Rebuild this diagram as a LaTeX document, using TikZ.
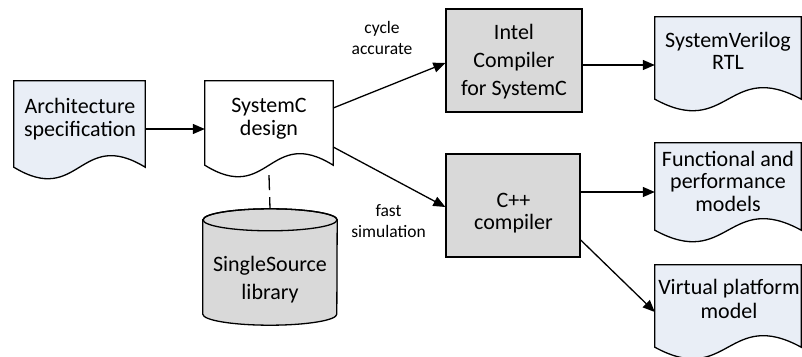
\documentclass[tikz,border=0pt]{standalone}
\usepackage{fontspec}
\setmainfont{Carlito}
\usetikzlibrary{calc,arrows.meta,backgrounds}
\definecolor{docfill}{HTML}{E9EEF6}
\definecolor{boxfill}{HTML}{D9D9D9}
\tikzset{
  shapebox/.style={draw=none,inner sep=0pt,minimum width=#1},
  procbox/.style={draw=black,line width=1.3pt,fill=boxfill,inner sep=0pt},
  outline/.style={draw=black,line width=1.3pt,line join=miter},
  txt/.style={align=center,inner sep=0pt,font={\fontsize{22}{23}\selectfont}},
  lbl/.style={align=center,inner sep=0pt,font={\fontsize{17.5}{21}\selectfont}},
  conn/.style={line width=1.3pt,-{Triangle[length=12pt,width=10pt]}},
  link/.style={line width=1.3pt,dash pattern=on 15pt off 7pt}
}
\newcommand\docpath[3]{% node, fill, wave
  \path[outline,fill=#2] (#1.north west) -- (#1.north east) -- (#1.south east)
    .. controls ($(#1.south)+(0,#3)$) and ($(#1.south)+(0,-#3)$) .. (#1.south west) -- cycle;}
\begin{document}
\begin{tikzpicture}[x=1pt,y=1pt]
\useasboundingbox (0,0) rectangle (802,356);
% document-shaped nodes
\node[shapebox=131pt,minimum height=86pt] (arch) at (79.5,232) {};
\node[shapebox=128pt,minimum height=84pt] (sysc) at (269,233) {};
\node[shapebox=146pt,minimum height=82pt] (sv) at (728,298) {};
\node[shapebox=146pt,minimum height=87pt] (func) at (728,169.5) {};
\node[shapebox=146pt,minimum height=82pt] (vp) at (728,50) {};
\docpath{arch}{docfill}{40}
\docpath{sysc}{white}{40}
\docpath{sv}{docfill}{40}
\docpath{func}{docfill}{40}
\docpath{vp}{docfill}{40}
% process boxes
\node[procbox,minimum width=136pt,minimum height=103pt] (intel) at (514,295.5) {};
\node[procbox,minimum width=134pt,minimum height=103pt] (cpp) at (513,150.5) {};
% cylinder
\node[shapebox=134pt,minimum height=116pt] (cyl) at (270,89) {};
\path[outline,fill=boxfill] ($(cyl.north west)+(0,-11)$) -- ($(cyl.south west)+(0,11)$)
  arc[start angle=180,end angle=360,x radius=67,y radius=11]
  -- ($(cyl.north east)+(0,-11)$)
  arc[start angle=0,end angle=180,x radius=67,y radius=11] -- cycle;
\path[outline] ($(cyl.north)+(0,-11)$) ellipse[x radius=67,y radius=11];
% texts
\node[txt] (archt) at (80,236.7) {Architecture\\specification};
\node[txt] (sysct) at (269,237.7) {SystemC\\design};
\node[txt,font={\fontsize{22}{28}\selectfont}] (intelt) at (514,294.7) {Intel\\Compiler\\for SystemC};
\node[txt,font={\fontsize{22}{21.5}\selectfont}] (cppt) at (513.5,143) {C++\\compiler};
\node[txt,font={\fontsize{22}{22}\selectfont}] (svt) at (728,305.25) {SystemVerilog\\RTL};
\node[txt,font={\fontsize{22}{22.5}\selectfont}] (funct) at (728,174.75) {Functional and\\performance\\models};
\node[txt,font={\fontsize{22}{24}\selectfont}] (vpt) at (729,57.25) {Virtual platform\\model};
\node[txt,font={\fontsize{22}{28}\selectfont}] (cylt) at (270,76) {SingleSource\\library};
\node[lbl] (l1) at (382,318.5) {cycle\\accurate};
\node[lbl] (l2) at (388.5,134.75) {fast\\simulation};
% connectors
\coordinate (a1) at ($(arch.east)+(0,-5)$);
\draw[conn] (a1) -- (a1 -| sysc.west);
\draw[conn] ($(sysc.east)+(0,15)$) -- ($(intel.west)+(0,-2.5)$);
\draw[conn] ($(sysc.east)+(0,-24)$) -- ($(cpp.west)+(0,-1.5)$);
\coordinate (a2) at ($(intel.east)+(0,-4.5)$);
\draw[conn] (a2) -- (a2 -| sv.west);
\coordinate (a3) at ($(cpp.east)+(0,13.5)$);
\draw[conn] (a3) -- (a3 -| func.west);
\draw[conn] ($(cpp.east)+(0,-34.5)$) -- ($(vp.west)+(0,-6)$);
\draw[link] ($(sysc.south)+(0,-10)$) -- (cyl.north);
\end{tikzpicture}
\end{document}
